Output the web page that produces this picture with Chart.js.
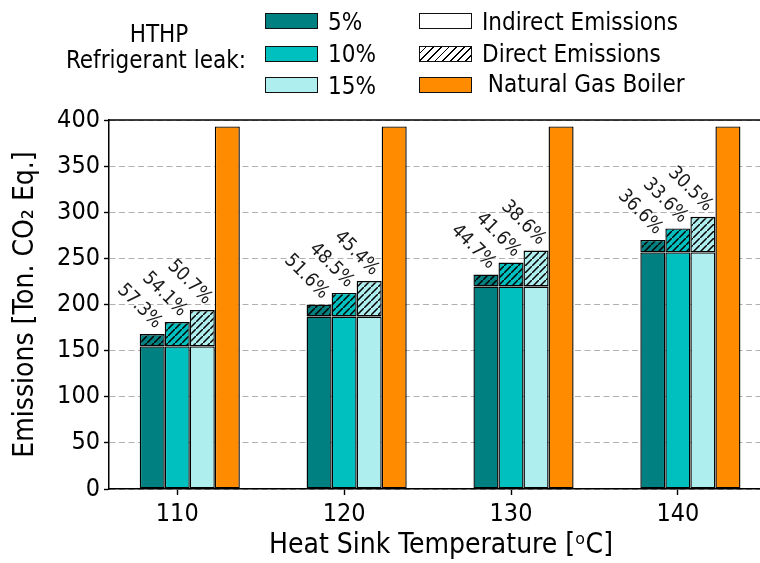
<!DOCTYPE html>
<html>
<head>
<meta charset="utf-8">
<script src="https://cdn.jsdelivr.net/npm/chart.js@4"></script>
<style>
  html, body { margin: 0; padding: 0; background: #fff; width: 760px; height: 563px; overflow: hidden; }
  #wrap { position: absolute; left: 0; top: 0; width: 790px; height: 563px; }
  #c { position: absolute; left: 0; top: 0; }
  .lg { position: absolute; font-family: "DejaVu Sans Condensed", "DejaVu Sans"; font-size: 24px; line-height: 24px; color: #000; white-space: pre; }
  .box { position: absolute; box-sizing: border-box; border: 1.4px solid #111; width: 53px; height: 16px; }
</style>
</head>
<body>
<div id="wrap">
  <canvas id="c" width="790" height="563"></canvas>
  <div id="legend"></div>
</div>
<script>
// Heat sink temperatures (°C) on the x axis
const temps = [110, 120, 130, 140];

// Indirect emissions of the heat pump (same for every leak rate)
const indirect = [154.5, 187, 219.5, 256.5];

// Direct (refrigerant leak) emissions stacked on top
const direct5  = [13.5, 13, 13, 13.5];
const direct10 = [26.5, 25.5, 26, 26];
const direct15 = [39.5, 38.5, 39, 38.5];

// Natural gas boiler reference
const boiler = [393, 393, 393, 393];

// Reduction labels above each heat-pump bar
const pct5  = [57.3, 51.6, 44.7, 36.6];
const pct10 = [54.1, 48.5, 41.6, 33.6];
const pct15 = [50.7, 45.4, 38.6, 30.5];

// Axis ticks
const yTicks = [0, 50, 100, 150, 200, 250, 300, 350, 400];
const xLimits = [105.16, 144.95];

const leakLabels = ['5%', '10%', '15%'];
const leakColors = ['#008080', '#00bfbf', '#afeeee'];
const boilerColor = '#ff8c00';

const FONT = '"DejaVu Sans Condensed", "DejaVu Sans"';
const catPct = 0.6;
const stacks = 4;
// half a bar, in x units: puts each tick on the 10% bar
const tickShift = 10 * catPct / stacks / 2;

function hatch(color) {
  const s = 7;
  const c = document.createElement('canvas');
  c.width = s; c.height = s;
  const g = c.getContext('2d');
  g.fillStyle = color;
  g.fillRect(0, 0, s, s);
  g.strokeStyle = '#000';
  g.lineWidth = 1.5;
  g.beginPath();
  g.moveTo(-1, s + 1); g.lineTo(s + 1, -1);
  g.moveTo(-1 - s, 1); g.lineTo(1, -1 - s);
  g.moveTo(-1 + s, s + 1 + s); g.lineTo(s + 1 + s, -1 + s);
  g.stroke();
  return g.createPattern(c, 'repeat');
}

const pts = arr => temps.map((t, i) => ({ x: t, y: arr[i] }));
const directs = [direct5, direct10, direct15];
const pcts = [pct5, pct10, pct15];

const datasets = [];
leakLabels.forEach((lab, k) => {
  datasets.push({ label: 'Indirect ' + lab, stack: 's' + k, data: pts(indirect), backgroundColor: leakColors[k] });
  datasets.push({ label: 'Direct ' + lab, stack: 's' + k, data: pts(directs[k]), backgroundColor: hatch(leakColors[k]), pct: pcts[k] });
});
datasets.push({ label: 'Natural Gas Boiler', stack: 'b', data: pts(boiler), backgroundColor: boilerColor });

// top and right spines
const frame = {
  id: 'frame',
  afterDraw(chart) {
    const { ctx, chartArea: a } = chart;
    ctx.save();
    ctx.strokeStyle = '#000';
    ctx.lineWidth = 1.5;
    ctx.beginPath();
    ctx.moveTo(a.left, a.top); ctx.lineTo(a.right, a.top); ctx.lineTo(a.right, a.bottom);
    ctx.stroke();
    ctx.restore();
  }
};

// rotated percentage labels over the stacked heat-pump bars
const pctLabels = {
  id: 'pctLabels',
  afterDatasetsDraw(chart) {
    const ctx = chart.ctx;
    ctx.save();
    ctx.font = '19px ' + FONT;
    ctx.fillStyle = '#1a1a1a';
    ctx.textAlign = 'right';
    ctx.textBaseline = 'alphabetic';
    chart.data.datasets.forEach((ds, di) => {
      if (!ds.pct) return;
      chart.getDatasetMeta(di).data.forEach((el, i) => {
        ctx.save();
        ctx.translate(el.x + 3, el.y - 5);
        ctx.rotate(Math.PI / 4);
        ctx.fillText(ds.pct[i].toFixed(1) + '%', 0, 0);
        ctx.restore();
      });
    });
    ctx.restore();
  }
};

const tickFont = { family: FONT, size: 25 };
const titleFont = { family: FONT, size: 28 };

new Chart(document.getElementById('c'), {
  type: 'bar',
  data: { datasets },
  options: {
    responsive: false,
    animation: false,
    devicePixelRatio: 1,
    layout: { padding: { top: 120, right: 17, left: 0, bottom: 0 } },
    plugins: { legend: { display: false }, tooltip: { enabled: false } },
    datasets: { bar: { categoryPercentage: catPct, barPercentage: 1, borderColor: '#000', borderWidth: 1.4, borderSkipped: false } },
    scales: {
      x: {
        type: 'linear', display: false, stacked: true, offset: false, bounds: 'data',
        min: xLimits[0], max: xLimits[1],
        afterBuildTicks(s) { s.ticks = temps.map(v => ({ value: v })); }
      },
      xt: {
        type: 'linear', position: 'bottom', offset: false, bounds: 'data',
        min: xLimits[0] + tickShift, max: xLimits[1] + tickShift,
        afterBuildTicks(s) { s.ticks = temps.map(v => ({ value: v })); },
        afterFit(s) { s.height = 74; },
        grid: { offset: false, drawOnChartArea: false, tickLength: 6, tickColor: '#000', tickWidth: 1.4 },
        border: { color: '#000', width: 1.5 },
        ticks: { font: tickFont, color: '#000', padding: 4, callback: v => String(v) },
        title: { display: true, text: 'Heat Sink Temperature [ᵒC]', font: titleFont, color: '#000', padding: { top: 0, bottom: 0 } }
      },
      y: {
        stacked: true, min: 0, max: 400,
        afterBuildTicks(s) { s.ticks = yTicks.map(v => ({ value: v })); },
        afterFit(s) { s.width = 109; },
        grid: { color: '#b0b0b0', lineWidth: 1, tickLength: 5, tickColor: '#000', tickWidth: 1.4 },
        border: { color: '#000', width: 1.5, dash: [6, 3.5] },
        ticks: { font: tickFont, color: '#000', padding: 4 },
        title: { display: true, text: 'Emissions [Ton. CO₂ Eq.]', font: titleFont, color: '#000', padding: { top: 9, bottom: 0 } }
      }
    }
  },
  plugins: [frame, pctLabels]
});

// legend block above the axes
const legend = document.getElementById('legend');
function addText(txt, left, cy, align) {
  const d = document.createElement('div');
  d.className = 'lg';
  d.textContent = txt;
  d.style.top = (cy - 12) + 'px';
  if (align === 'center') { d.style.left = (left - 100) + 'px'; d.style.width = '200px'; d.style.textAlign = 'center'; }
  else if (align === 'right') { d.style.left = (left - 250) + 'px'; d.style.width = '250px'; d.style.textAlign = 'right'; }
  else d.style.left = left + 'px';
  legend.appendChild(d);
}
function addBox(left, top, bg) {
  const b = document.createElement('div');
  b.className = 'box';
  b.style.left = left + 'px';
  b.style.top = top + 'px';
  b.style.background = bg;
  legend.appendChild(b);
}
const rowBox = [13, 46, 77];
const rowText = [21.5, 54, 86];
addText('HTHP', 159, 34, 'center');
addText('Refrigerant leak:', 246, 60, 'right');
leakLabels.forEach((lab, k) => {
  addBox(265, rowBox[k], leakColors[k]);
  addText(lab, 328, rowText[k]);
});
const hatchCss = 'repeating-linear-gradient(135deg, #fff 0 3.6px, #000 3.6px 4.9px, #fff 4.9px 5.4px)';
addBox(419, rowBox[0], '#fff');
addText('Indirect Emissions', 482, 21.5);
addBox(419, rowBox[1], hatchCss);
addText('Direct Emissions', 482, 53.5);
addBox(419, rowBox[2], boilerColor);
addText(' Natural Gas Boiler', 481, 84);
</script>
</body>
</html>
